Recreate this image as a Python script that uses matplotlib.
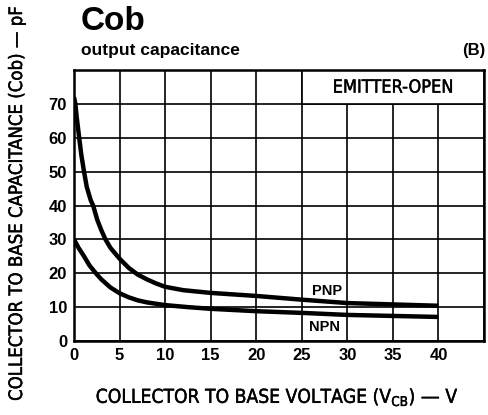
import matplotlib
matplotlib.use("Agg")
import matplotlib.pyplot as plt
import matplotlib.patheffects as pe
from matplotlib.patches import Rectangle

# output capacitance vs collector-base voltage
pnp_v = [0, 0.15, 0.3, 0.57, 0.8, 1.1, 1.4, 1.83, 2.1, 2.55, 3, 3.45, 4, 5, 6, 7, 8, 9, 10,
         12, 15, 20, 25, 30, 35, 40]
pnp_c = [72, 70, 66, 60, 55, 50, 45.5, 41.6, 40, 35.8, 32.7, 30, 27.5, 24.3, 21.6, 19.6, 18.2, 17.0, 16.0,
         15.0, 14.2, 13.3, 12.2, 11.2, 10.8, 10.4]

npn_v = [0, 0.5, 1.1, 1.7, 2.4, 3, 4, 5, 6, 7, 8, 10, 12.5, 15, 20, 25, 30, 35, 40]
npn_c = [30, 27.5, 25, 22.3, 20, 18.2, 15.8, 14.1, 12.9, 12.0, 11.4, 10.6, 10.0, 9.5, 8.8, 8.3, 7.7, 7.4, 7.1]

x_ticks = [0, 5, 10, 15, 20, 25, 30, 35, 40]
y_ticks = [0, 10, 20, 30, 40, 50, 60, 70]

bold = ["Liberation Sans", "DejaVu Sans"]
# condensed labels, slightly thickened
cond = dict(family="DejaVu Sans", fontstretch="condensed",
            path_effects=[pe.withStroke(linewidth=0.3, foreground="black")])

fig = plt.figure(figsize=(4.89, 4.15), dpi=100)
ax = fig.add_axes([74 / 489, 1 - 341 / 415, 410 / 489, 271 / 415])

ax.set_xlim(0, 45)
ax.set_ylim(0, 80)
ax.set_xticks(range(0, 50, 5))
ax.set_yticks(range(0, 90, 10))
ax.set_xticklabels([str(v) for v in x_ticks] + [""])
ax.set_yticklabels([str(v) for v in y_ticks] + [""])
for lab in ax.get_xticklabels() + ax.get_yticklabels():
    lab.set_fontfamily(bold)
    lab.set_fontweight("bold")
    lab.set_fontsize(12)
ax.tick_params(length=0, pad=5)
ax.set_axisbelow(True)
ax.grid(True, color="black", linewidth=1.2)
for s in ax.spines.values():
    s.set_linewidth(1.8)

# white box behind the condition label
ax.add_patch(Rectangle((25, 70), 20, 10, facecolor="white", edgecolor="black",
                       linewidth=1.2, zorder=1))
ax.text(35, 74.8, "EMITTER-OPEN", ha="center", va="center", fontsize=13,
        zorder=3, **cond)

for v, c in [(pnp_v, pnp_c), (npn_v, npn_c)]:
    ax.plot(v, c, color="black", linewidth=3.2, solid_capstyle="butt",
            solid_joinstyle="round", zorder=2)
ax.text(27.8, 14.9, "PNP", ha="center", va="center", fontsize=10.5,
        fontweight="bold", family=bold)
ax.text(27.5, 4.0, "NPN", ha="center", va="center", fontsize=10.5,
        fontweight="bold", family=bold)

fig.text(81 / 489, 1 - 22 / 415, "Cob", ha="left", va="center", fontsize=24,
         fontweight="bold", family=bold)
fig.text(81 / 489, 1 - 51 / 415, "output capacitance", ha="left", va="center",
         fontsize=12.5, fontweight="bold", family=bold)
fig.text(485 / 489, 1 - 51 / 415, "(B)", ha="right", va="center",
         fontsize=12, fontweight="bold", family=bold)

fig.text(17 / 489, 1 - 203 / 415, "COLLECTOR TO BASE CAPACITANCE (Cob) \u2014 pF",
         rotation=90, ha="center", va="center", fontsize=13.3, **cond)
fig.text(277 / 489, 1 - 397 / 415,
         "COLLECTOR TO BASE VOLTAGE (V$_{\\mathregular{CB}}$) \u2014 V",
         ha="center", va="center", fontsize=13.8, **cond)

fig.savefig("out.png", dpi=100)
